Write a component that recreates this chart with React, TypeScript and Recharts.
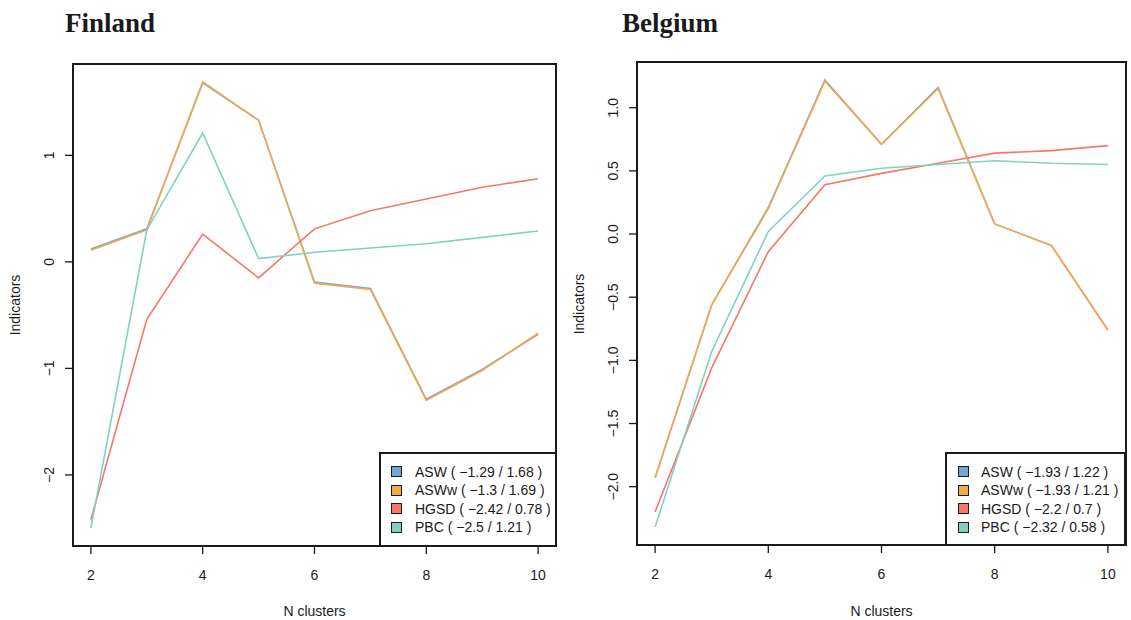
import { LineChart, Line, XAxis, YAxis, ReferenceArea } from 'recharts'

const clusters = [2, 3, 4, 5, 6, 7, 8, 9, 10]
const xTicks = [2, 4, 6, 8, 10]
const seriesNames = ['ASW', 'ASWw', 'HGSD', 'PBC']
const seriesColors = ['#73A9D6', '#F5A94A', '#F47768', '#80D2C1']

const finlandASW = [0.12, 0.31, 1.68, 1.33, -0.19, -0.25, -1.29, -1.01, -0.68]
const finlandASWw = [0.11, 0.30, 1.69, 1.33, -0.20, -0.26, -1.30, -1.02, -0.67]
const finlandHGSD = [-2.42, -0.54, 0.26, -0.15, 0.31, 0.48, 0.59, 0.70, 0.78]
const finlandPBC = [-2.5, 0.30, 1.21, 0.03, 0.09, 0.13, 0.17, 0.23, 0.29]
const finlandLegend = [
  'ASW ( −1.29 / 1.68 )',
  'ASWw ( −1.3 / 1.69 )',
  'HGSD ( −2.42 / 0.78 )',
  'PBC ( −2.5 / 1.21 )',
]
const finlandYTicks = [-2, -1, 0, 1]

const belgiumASW = [-1.93, -0.56, 0.21, 1.22, 0.71, 1.16, 0.08, -0.09, -0.76]
const belgiumASWw = [-1.93, -0.56, 0.20, 1.21, 0.71, 1.15, 0.08, -0.09, -0.76]
const belgiumHGSD = [-2.2, -1.06, -0.14, 0.39, 0.48, 0.56, 0.64, 0.66, 0.70]
const belgiumPBC = [-2.32, -0.93, 0.02, 0.46, 0.52, 0.55, 0.58, 0.56, 0.55]
const belgiumLegend = [
  'ASW ( −1.93 / 1.22 )',
  'ASWw ( −1.93 / 1.21 )',
  'HGSD ( −2.2 / 0.7 )',
  'PBC ( −2.32 / 0.58 )',
]
const belgiumYTicks = [-2, -1.5, -1, -0.5, 0, 0.5, 1]

const sans = '"Liberation Sans", Arial, sans-serif'
const ink = '#1a1a1a'

// R-style axis range: data range padded by 4% on each side
function padded(values: number[]): [number, number] {
  const lo = Math.min(...values)
  const hi = Math.max(...values)
  const pad = (hi - lo) * 0.04
  return [lo - pad, hi + pad]
}

function buildRows(cols: number[][]) {
  return clusters.map((n, i) => {
    const row: any = { n }
    seriesNames.forEach((name, j) => {
      row[name] = cols[j][i]
    })
    return row
  })
}

interface PanelProps {
  title: string
  cols: number[][]
  legend: string[]
  yTicks: number[]
  yFmt: (v: number) => string
  left: number
  width: number
  margin: { top: number; right: number; bottom: number; left: number }
  titleX: number
  legendBox: { left: number; top: number; width: number; height: number; sq: number }
}

function Panel({ title, cols, legend, yTicks, yFmt, left, width, margin, titleX, legendBox }: PanelProps) {
  const data = buildRows(cols)
  const xDomain = padded(clusters)
  const yDomain = padded(cols.flat())
  const height = 620
  const plotLeft = left + margin.left + 60
  const plotRight = left + width - margin.right
  const plotTop = margin.top
  const plotBottom = height - margin.bottom - 60

  const YTick = (p: any) => (
    <text
      transform={`translate(${p.x - 14},${p.y}) rotate(-90)`}
      textAnchor="middle"
      dy="0.35em"
      fontSize={14}
      fontFamily={sans}
      fill={ink}
    >
      {yFmt(p.payload.value)}
    </text>
  )
  const XTick = (p: any) => (
    <text x={p.x} y={p.y + 19} textAnchor="middle" dy="0.35em" fontSize={14} fontFamily={sans} fill={ink}>
      {p.payload.value}
    </text>
  )

  return (
    <>
      <div
        style={{
          position: 'absolute',
          left: titleX,
          top: 10,
          fontFamily: '"Liberation Serif", "Times New Roman", serif',
          fontWeight: 'bold',
          fontSize: 27,
          lineHeight: 1,
          color: ink,
          whiteSpace: 'nowrap',
        }}
      >
        {title}
      </div>
      <div style={{ position: 'absolute', left, top: 0 }}>
        <LineChart width={width} height={height} data={data} margin={margin}>
          <XAxis
            dataKey="n"
            type="number"
            domain={xDomain}
            ticks={xTicks}
            allowDataOverflow
            axisLine={false}
            tickSize={8}
            tickMargin={2}
            tickLine={{ stroke: ink, strokeWidth: 1.3 }}
            tick={XTick}
            height={60}
          />
          <YAxis
            type="number"
            domain={yDomain}
            ticks={yTicks}
            allowDataOverflow
            axisLine={false}
            tickSize={8}
            tickMargin={2}
            tickLine={{ stroke: ink, strokeWidth: 1.3 }}
            tick={YTick}
            width={60}
          />
          {seriesNames.map((name, j) => (
            <Line
              key={name}
              type="linear"
              dataKey={name}
              stroke={seriesColors[j]}
              strokeWidth={1.6}
              dot={false}
              isAnimationActive={false}
            />
          ))}
          <ReferenceArea
            x1={xDomain[0]}
            x2={xDomain[1]}
            y1={yDomain[0]}
            y2={yDomain[1]}
            fill="none"
            fillOpacity={0}
            stroke={ink}
            strokeWidth={2}
            ifOverflow="visible"
          />
        </LineChart>
      </div>
      <div
        style={{
          position: 'absolute',
          left: legendBox.left,
          top: legendBox.top,
          width: legendBox.width,
          height: legendBox.height,
          border: `2px solid ${ink}`,
          boxSizing: 'border-box',
          background: '#fff',
        }}
      >
        {legend.map((label, i) => {
          const cy = 17.5 + i * 18.6
          return (
            <div key={label}>
              <div
                style={{
                  position: 'absolute',
                  left: legendBox.sq,
                  top: cy - 5.5,
                  width: 11,
                  height: 11,
                  boxSizing: 'border-box',
                  border: `1px solid ${ink}`,
                  background: seriesColors[i],
                }}
              />
              <div
                style={{
                  position: 'absolute',
                  left: 34,
                  top: cy - 9,
                  lineHeight: '18px',
                  fontSize: 14,
                  fontFamily: sans,
                  color: ink,
                  whiteSpace: 'nowrap',
                }}
              >
                {label}
              </div>
            </div>
          )
        })}
      </div>
      <div
        style={{
          position: 'absolute',
          left: (plotLeft + plotRight) / 2,
          top: 611,
          transform: 'translate(-50%, -50%)',
          fontSize: 14,
          fontFamily: sans,
          color: ink,
          whiteSpace: 'nowrap',
        }}
      >
        N clusters
      </div>
      <div
        style={{
          position: 'absolute',
          left: plotLeft - 58,
          top: (plotTop + plotBottom) / 2,
          transform: 'translate(-50%, -50%) rotate(-90deg)',
          fontSize: 14,
          fontFamily: sans,
          color: ink,
          whiteSpace: 'nowrap',
        }}
      >
        Indicators
      </div>
    </>
  )
}

export default function App() {
  return (
    <div style={{ position: 'absolute', left: 0, top: 0, width: 1131, height: 620, background: '#fff', overflow: 'hidden' }}>
      <Panel
        title="Finland"
        cols={[finlandASW, finlandASWw, finlandHGSD, finlandPBC]}
        legend={finlandLegend}
        yTicks={finlandYTicks}
        yFmt={(v) => String(v).replace('-', '−')}
        left={0}
        width={570}
        margin={{ top: 64, right: 14, bottom: 14, left: 13 }}
        titleX={65}
        legendBox={{ left: 379, top: 452, width: 178, height: 95, sq: 10 }}
      />
      <Panel
        title="Belgium"
        cols={[belgiumASW, belgiumASWw, belgiumHGSD, belgiumPBC]}
        legend={belgiumLegend}
        yTicks={belgiumYTicks}
        yFmt={(v) => v.toFixed(1).replace('-', '−')}
        left={570}
        width={561}
        margin={{ top: 62, right: 5, bottom: 15, left: 7 }}
        titleX={622}
        legendBox={{ left: 945, top: 452, width: 181, height: 94, sq: 11 }}
      />
    </div>
  )
}
